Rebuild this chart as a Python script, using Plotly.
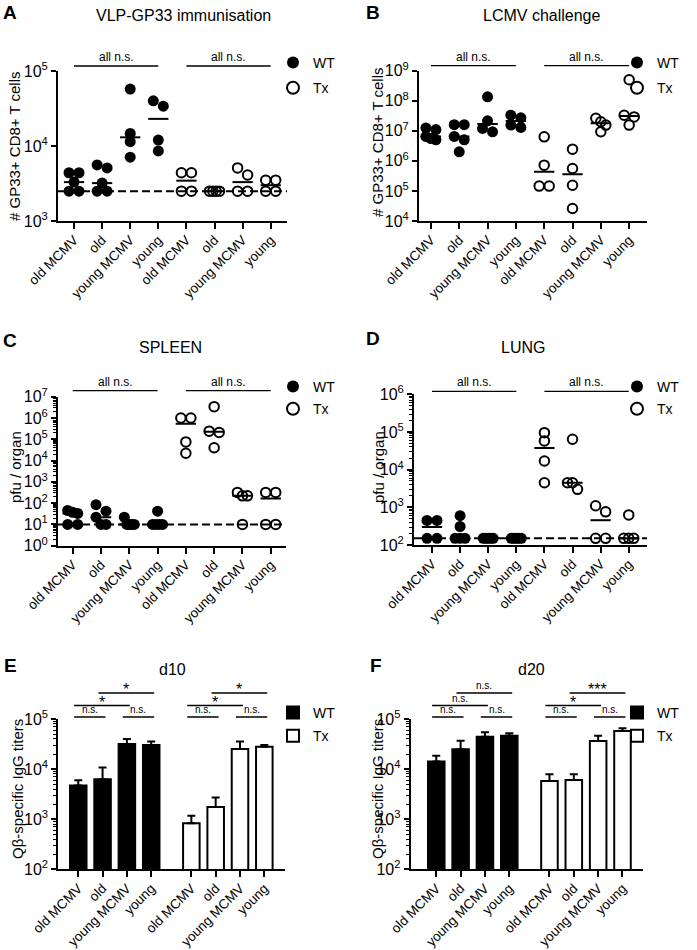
import numpy as np
import plotly.graph_objects as go

W, H = 697, 950
FONT = "Arial, 'Liberation Sans', Helvetica, sans-serif"

# ---------------- data ----------------
groups = ["old MCMV", "old", "young MCMV", "young"]
tick_labels = groups + groups
series_names = ["WT", "Tx"]

# A: VLP-GP33 immunisation (# GP33+ CD8+ T cells)
A_wt = [[4400, 4400, 3300, 2500, 2500], [5600, 5100, 3200, 2500, 2500],
        [57500, 14700, 11400, 7100], [40000, 34000, 12000, 8600]]
A_tx = [[4400, 4400, 2500, 2500], [2500, 2500, 2500, 2500],
        [5100, 4100, 2500, 2500], [3500, 3500, 2500, 2500]]
A_lod = 2500

# B: LCMV challenge
B_wt = [[1.25e7, 1.1e7, 6.5e6, 5.5e6, 5.0e6], [1.6e7, 1.6e7, 6.5e6, 5.0e6, 2.0e6],
        [1.35e8, 2.15e7, 1.2e7, 9.3e6], [3.3e7, 2.7e7, 1.55e7, 1.3e7]]
B_tx = [[6.3e6, 7.2e5, 1.45e5, 1.45e5], [2.45e6, 5.6e5, 1.55e5, 2.6e4],
        [2.6e7, 2.0e7, 1.55e7, 9.3e6], [5.0e8, 3.3e7, 2.9e7, 1.55e7]]
B_lod = None

# C: SPLEEN (pfu / organ)
C_wt = [[45, 37, 33, 10, 10], [85, 42, 22, 10, 10], [22, 10, 10, 10, 10], [42, 10, 10, 10, 10]]
C_tx = [[1.0e6, 1.0e6, 7.5e4, 2.2e4], [3.4e6, 2.4e5, 2.1e5, 4.0e4],
        [320, 220, 220, 10], [320, 320, 10, 10]]
C_lod = 10

# D: LUNG (pfu / organ)
D_wt = [[450, 450, 150, 150], [600, 310, 150, 150, 150], [150, 150, 150, 150, 150],
        [150, 150, 150, 150, 150]]
D_tx = [[9.6e4, 5.8e4, 1.7e4, 4.5e3], [6.4e4, 4.5e3, 4.5e3, 3.0e3],
        [1100, 760, 150, 150], [630, 150, 150, 150]]
D_lod = 150

# E: d10 Qbeta-specific IgG titers (mean, SEM)
E_wt_mean = [4700, 6300, 31700, 30300]
E_wt_sem = [1300, 4500, 8300, 5100]
E_tx_mean = [830, 1750, 25200, 28000]
E_tx_sem = [340, 950, 10200, 2300]

# F: d20
F_wt_mean = [14100, 24800, 44400, 46400]
F_wt_sem = [4400, 12100, 9800, 5300]
F_tx_mean = [5800, 6050, 36400, 57500]
F_tx_sem = [2050, 1800, 10000, 7500]

# significance brackets: (from group, to group, label, row)
E_sig = [(0, 1, "n.s.", 3), (2, 3, "n.s.", 3), (0, 2, "*", 2), (1, 3, "*", 1),
         (4, 5, "n.s.", 3), (6, 7, "n.s.", 3), (4, 6, "*", 2), (5, 7, "*", 1)]
F_sig = [(0, 1, "n.s.", 3), (2, 3, "n.s.", 3), (0, 2, "n.s.", 2), (1, 3, "n.s.", 1),
         (4, 5, "n.s.", 3), (6, 7, "n.s.", 3), (4, 6, "*", 2), (5, 7, "***", 1)]

# ---------------- layout geometry (pixels) ----------------
panels = [
    dict(letter="A", title="VLP-GP33 immunisation", ytitle="# GP33+ CD8+ T cells",
         wt=A_wt, tx=A_tx, lod=A_lod, L=58, R=287, T=71, B=221, xr=[-0.57, 7.58], yr=[3, 5],
         minor=False, letter_xy=(10, 12), title_xy=(183, 15), ytitle_xy=(15, 146),
         leg_xy=(313, 63), leg_gap=4, ns_px=5),
    dict(letter="B", title="LCMV challenge", ytitle="# GP33+ CD8+ T cells",
         wt=B_wt, tx=B_tx, lod=B_lod, L=419, R=647, T=70.7, B=221, xr=[-0.42, 7.63], yr=[4, 9],
         minor=False, letter_xy=(373, 12), title_xy=(542, 15), ytitle_xy=(377, 142),
         leg_xy=(657, 63), leg_gap=4, ns_px=5),
    dict(letter="C", title="SPLEEN", ytitle="pfu / organ",
         wt=C_wt, tx=C_tx, lod=C_lod, L=58, R=286, T=396.7, B=545.7, xr=[-0.52, 7.54], yr=[0, 7],
         minor=True, letter_xy=(10, 340), title_xy=(170, 348), ytitle_xy=(15, 467),
         leg_xy=(313, 387), leg_gap=1, ns_px=6),
    dict(letter="D", title="LUNG", ytitle="pfu / organ",
         wt=D_wt, tx=D_tx, lod=D_lod, L=414, R=647, T=394.3, B=545, xr=[-0.64, 7.65], yr=[2, 6],
         minor=True, letter_xy=(373, 338), title_xy=(523, 348), ytitle_xy=(378, 467),
         leg_xy=(657, 387), leg_gap=1, ns_px=3),
]
bar_panels = [
    dict(letter="E", title="d10", ytitle="Q\u03b2-specific IgG titers",
         wt=(E_wt_mean, E_wt_sem), tx=(E_tx_mean, E_tx_sem), sig=E_sig,
         L=58.3, R=285, T=719, B=869.3, xr=[-0.82, 8.5], yr=[2, 5],
         letter_xy=(10, 665), title_xy=(172, 669), ytitle_xy=(17, 789),
         leg_xy=(313, 713), leg_gap=2),
    dict(letter="F", title="d20", ytitle="Q\u03b2-specific IgG titers",
         wt=(F_wt_mean, F_wt_sem), tx=(F_tx_mean, F_tx_sem), sig=F_sig,
         L=410.7, R=642.7, T=719, B=869.3, xr=[-1.05, 8.48], yr=[2, 5],
         letter_xy=(376, 665), title_xy=(531, 669), ytitle_xy=(377, 789),
         leg_xy=(657, 713), leg_gap=2),
]
GROUP_GAP = 0.65   # extra gap between WT and Tx bar groups (category units)
BAR_W = 0.68
MED_HALF = 0.36
DOT = 10.0         # marker diameter in px
ROW_PX = {3: 2, 2: 13.5, 1: 26}   # bracket rows, px above plot top
XTICK_FONT = 13.5
YTICK_FONT = 16

fig = go.Figure()
layout = dict(width=W, height=H, margin=dict(l=0, r=0, t=0, b=0, pad=0, autoexpand=False),
              paper_bgcolor="white", plot_bgcolor="white", barmode="overlay",
              font=dict(family=FONT, color="black"))
annotations, shapes = [], []


def px2paper(x, y):
    return x / W, 1 - y / H


def swarm(vals, center, px_cat, px_dec):
    order = sorted(range(len(vals)), key=lambda k: -vals[k])
    ys = {k: np.log10(vals[k]) * px_dec for k in order}
    rows = []
    for k in order:
        if rows and ys[rows[-1][0]] - ys[k] < 0.75 * DOT:
            rows[-1].append(k)
        else:
            rows.append([k])
    xs = [0.0] * len(vals)
    for row in rows:
        n = len(row)
        for m, k in enumerate(row):
            off = 0.0 if n == 1 else (-DOT / 2 + DOT * m / (n - 1))
            xs[k] = center + off / px_cat
    return xs


def log_ticks(yr):
    vals = [10.0 ** k for k in range(yr[0], yr[1] + 1)]
    text = ["10<sup>%d</sup>" % k for k in range(yr[0], yr[1] + 1)]
    return vals, text


def minor_ticks(yr):
    return [m * 10.0 ** k for k in range(yr[0], yr[1]) for m in range(2, 10)]


def axes(idx, p, xvals, minor):
    sfx = "" if idx == 1 else str(idx)
    tv, tt = log_ticks(p["yr"])
    xa = dict(domain=[p["L"] / W, p["R"] / W], range=p["xr"], anchor="y" + sfx,
              showline=True, linecolor="black", linewidth=2, ticks="outside", ticklen=6,
              tickwidth=2, tickcolor="black", tickmode="array", tickvals=xvals,
              ticktext=tick_labels, tickangle=-45, ticklabelstandoff=-2,
              tickfont=dict(size=XTICK_FONT, family=FONT),
              showgrid=False, zeroline=False, fixedrange=True, automargin=False)
    ya = dict(domain=[1 - p["B"] / H, 1 - p["T"] / H], type="log", range=p["yr"],
              anchor="x" + sfx, showline=True, linecolor="black", linewidth=2,
              ticks="outside", ticklen=5, tickwidth=2, tickcolor="black",
              tickmode="array", tickvals=tv, ticktext=tt,
              tickfont=dict(size=YTICK_FONT, family=FONT),
              showgrid=False, zeroline=False, automargin=False, fixedrange=True)
    if minor:
        ya["minor"] = dict(tickmode="array", tickvals=minor_ticks(p["yr"]), ticks="outside",
                           ticklen=3, tickwidth=1, tickcolor="black", showgrid=False)
    layout["xaxis" + sfx] = xa
    layout["yaxis" + sfx] = ya
    return sfx


def paper_text(text, xy, size, angle=0):
    x, y = px2paper(*xy)
    annotations.append(dict(text=text, x=x, y=y, xref="paper", yref="paper",
                            xanchor="center", yanchor="middle", showarrow=False,
                            textangle=angle, font=dict(size=size, family=FONT)))


def texts(p, legend_name):
    paper_text("<b>%s</b>" % p["letter"], p["letter_xy"], 19)
    paper_text(p["title"], p["title_xy"], 16)
    paper_text(p["ytitle"], p["ytitle_xy"], 15, angle=-90)
    gx, gy = px2paper(p["leg_xy"][0] - 40, p["leg_xy"][1] - 16)
    layout[legend_name] = dict(x=gx, y=gy, xanchor="left", yanchor="top",
                               bgcolor="rgba(0,0,0,0)", borderwidth=0,
                               font=dict(size=14, family=FONT), traceorder="grouped",
                               tracegroupgap=p["leg_gap"], itemsizing="constant")


# ---------------- scatter panels ----------------
for i, p in enumerate(panels):
    idx = i + 1
    xvals = list(range(len(tick_labels)))
    sfx = axes(idx, p, xvals, p["minor"])
    legend_name = "legend" if idx == 1 else "legend%d" % idx
    texts(p, legend_name)
    px_cat = (p["R"] - p["L"]) / (p["xr"][1] - p["xr"][0])
    px_dec = (p["B"] - p["T"]) / (p["yr"][1] - p["yr"][0])
    xa, ya = "x" + sfx, "y" + sfx

    if p["lod"] is not None:
        fig.add_trace(go.Scatter(x=p["xr"], y=[p["lod"], p["lod"]], mode="lines",
                                 line=dict(color="black", width=2, dash="8px,4px"),
                                 showlegend=False, hoverinfo="skip", xaxis=xa, yaxis=ya))
    all_sets = p["wt"] + p["tx"]
    mx, my = [], []
    for g, vals in enumerate(all_sets):
        med = float(np.median(vals))
        mx += [g - MED_HALF, g + MED_HALF, None]
        my += [med, med, None]
    fig.add_trace(go.Scatter(x=mx, y=my, mode="lines", line=dict(color="black", width=2),
                             showlegend=False, hoverinfo="skip", xaxis=xa, yaxis=ya))
    for name, sets, offset in [("WT", p["wt"], 0), ("Tx", p["tx"], 4)]:
        xs, ys = [], []
        for g, vals in enumerate(sets):
            xs += swarm(vals, g + offset, px_cat, px_dec)
            ys += list(vals)
        if name == "WT":
            marker = dict(symbol="circle", size=11, color="black", line=dict(width=0))
        else:
            marker = dict(symbol="circle-open", size=9.5, color="black",
                          line=dict(width=2, color="black"))
        fig.add_trace(go.Scatter(x=xs, y=ys, mode="markers", marker=marker, name=name,
                                 legend=legend_name, legendgroup=name + sfx,
                                 xaxis=xa, yaxis=ya, cliponaxis=False))
    # "all n.s." bars
    h = p["B"] - p["T"]
    yline = 1 + p["ns_px"] / h
    for a, b in [(0, 3), (4, 7)]:
        shapes.append(dict(type="line", xref=xa, yref=ya + " domain", x0=a, x1=b,
                           y0=yline, y1=yline, line=dict(color="black", width=1.3)))
        annotations.append(dict(text="all n.s.", xref=xa, yref=ya + " domain", x=(a + b) / 2,
                                y=yline, xanchor="center", yanchor="bottom", showarrow=False,
                                font=dict(size=12, family=FONT)))

# ---------------- bar panels ----------------
for j, p in enumerate(bar_panels):
    idx = len(panels) + j + 1
    xpos = [k + (GROUP_GAP if k >= 4 else 0) for k in range(8)]
    sfx = axes(idx, p, xpos, True)
    legend_name = "legend%d" % idx
    texts(p, legend_name)
    xa, ya = "x" + sfx, "y" + sfx
    h = p["B"] - p["T"]
    for name, (mean, sem), fill, xs in [("WT", p["wt"], "black", xpos[:4]),
                                         ("Tx", p["tx"], "white", xpos[4:])]:
        fig.add_trace(go.Bar(x=xs, y=mean, width=BAR_W, name=name, legend=legend_name,
                             legendgroup=name + sfx,
                             marker=dict(color=fill, line=dict(color="black", width=2)),
                             error_y=dict(type="data", array=sem, arrayminus=[0] * 4,
                                          symmetric=False, color="black", thickness=2, width=4),
                             xaxis=xa, yaxis=ya))
    for a, b, lab, row in p["sig"]:
        yv = 1 + ROW_PX[row] / h
        x0, x1 = xpos[a] - 0.17, xpos[b] + 0.12
        shapes.append(dict(type="line", xref=xa, yref=ya + " domain",
                           x0=x0, x1=x1, y0=yv, y1=yv, line=dict(color="black", width=1.3)))
        star = lab.startswith("*")
        annotations.append(dict(text=lab, xref=xa, yref=ya + " domain", x=(x0 + x1) / 2,
                                y=yv - (7.0 / h if star else 0.0), xanchor="center",
                                yanchor="bottom", showarrow=False,
                                font=dict(size=16 if star else 10, family=FONT)))

layout["annotations"] = annotations
layout["shapes"] = shapes
fig.update_layout(**layout)
# remove the browser's default 8px body margin so the figure fills the window exactly
fig.write_html("out.html", config={"displayModeBar": False},
               post_script="document.body.style.margin='0';")
